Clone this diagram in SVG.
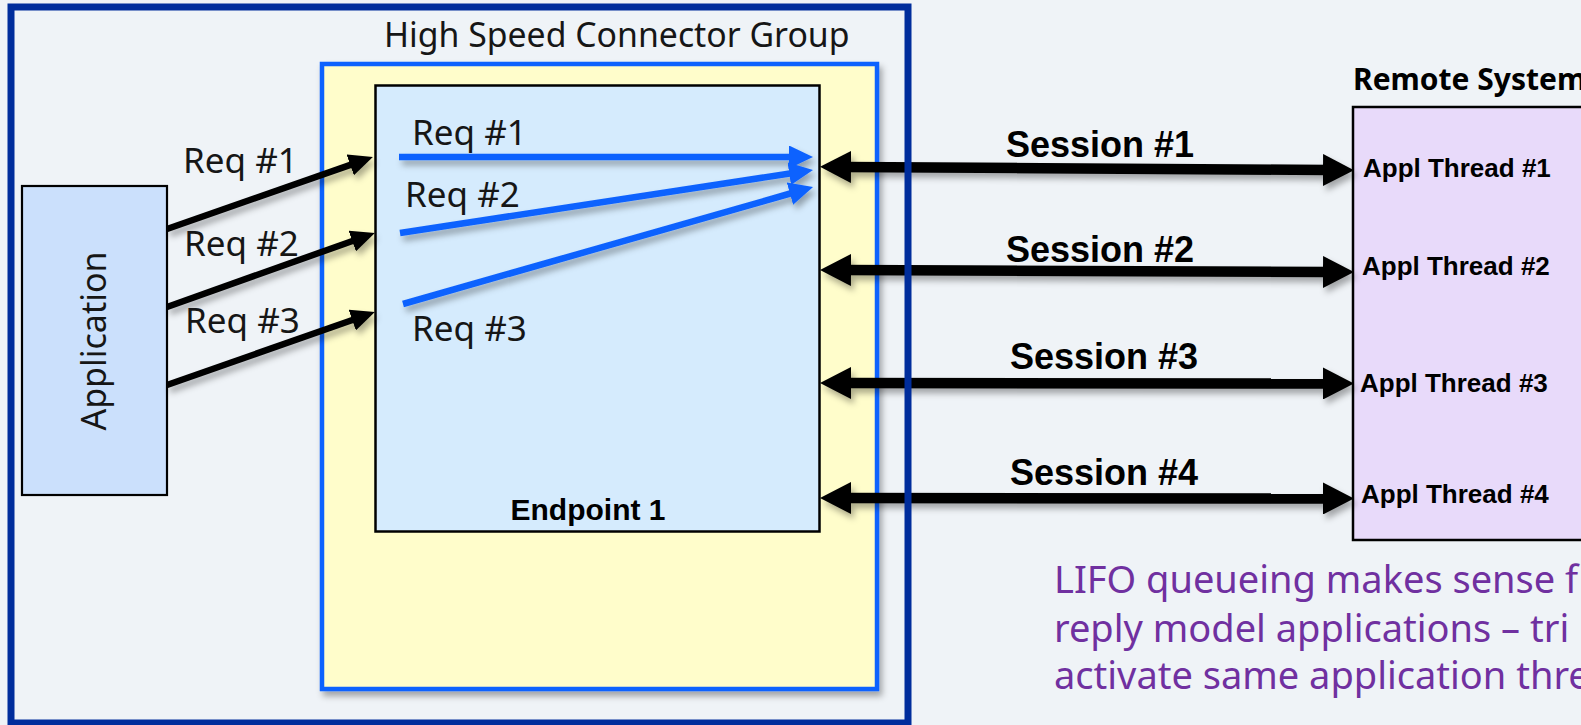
<svg xmlns="http://www.w3.org/2000/svg" width="1581" height="725" viewBox="0 0 1581 725">
  <style>
    .reg { font-family: "Noto Sans", "Open Sans", sans-serif; fill: #161616; }
    .bold { font-family: "Liberation Sans", Arial, sans-serif; font-weight: bold; fill: #000; }
    .req { font-size: 35px; }
    .session { font-size: 36px; }
    .thread { font-size: 26px; }
    .note { font-family: "Noto Sans", "Open Sans", sans-serif; font-size: 38px; fill: #7030a0; }
    .box { stroke: #000; stroke-width: 2.5; }
    .req-link { stroke: #000; stroke-width: 6.5; fill: none; }
    .fan-link { stroke: #0f62fe; stroke-width: 6.5; fill: none; }
    .session-link { stroke: #000; stroke-width: 10.5; fill: none; }
  </style>
  <defs>
    <filter id="shadow" x="-10%" y="-10%" width="130%" height="140%">
      <feDropShadow dx="3" dy="5" stdDeviation="3" flood-color="#000" flood-opacity="0.32"/>
    </filter>
    <marker id="headBlack" markerUnits="userSpaceOnUse" markerWidth="24" markerHeight="22" refX="4" refY="11" orient="auto">
      <path d="M0,0 L24,11 L0,22 Z" fill="#000"/>
    </marker>
    <marker id="headBlue" markerUnits="userSpaceOnUse" markerWidth="24" markerHeight="23" refX="4" refY="11.5" orient="auto">
      <path d="M0,0 L24,11.5 L0,23 Z" fill="#0f62fe"/>
    </marker>
    <marker id="headSession" markerUnits="userSpaceOnUse" markerWidth="31" markerHeight="32" refX="6" refY="16" orient="auto-start-reverse">
      <path d="M0,0 L31,16 L0,32 Z" fill="#000"/>
    </marker>
  </defs>

  <!-- page background -->
  <rect x="0" y="0" width="1581" height="725" fill="#eff3f7"/>

  <!-- connector group container -->
  <g id="hsc-group">
    <rect x="322" y="64" width="555" height="625" fill="#fffdcb" stroke="#0f62fe" stroke-width="4.5" filter="url(#shadow)"/>
    <text class="reg" x="384" y="47" font-size="33.8">High Speed Connector Group</text>
  </g>

  <!-- endpoint -->
  <g id="endpoint-1">
    <rect class="box" x="375.5" y="85.5" width="444" height="446" fill="#d5ebfd"/>
    <text class="bold" x="588" y="520" font-size="30" text-anchor="middle">Endpoint 1</text>
  </g>

  <!-- application -->
  <g id="application">
    <rect x="22" y="186" width="145" height="309" fill="#cbe0fc" stroke="#000" stroke-width="2.2"/>
    <text class="reg" font-size="34" text-anchor="middle" transform="translate(106,341) rotate(-90)">Application</text>
  </g>

  <!-- remote system -->
  <g id="remote-system">
    <rect class="box" x="1353" y="107" width="260" height="433" fill="#e8dafa"/>
    <text x="1353" y="90" font-family="'Noto Sans', 'Liberation Sans', sans-serif" font-weight="bold" font-size="30" fill="#000">Remote System</text>
    <text class="bold thread" x="1363" y="177">Appl Thread #1</text>
    <text class="bold thread" x="1362" y="275">Appl Thread #2</text>
    <text class="bold thread" x="1360" y="392">Appl Thread #3</text>
    <text class="bold thread" x="1361" y="503">Appl Thread #4</text>
  </g>

  <!-- connectors -->
  <g id="connectors" filter="url(#shadow)">
    <!-- application to endpoint -->
    <line class="req-link" x1="167" y1="229" x2="354" y2="163.6" marker-end="url(#headBlack)"/>
    <line class="req-link" x1="167" y1="307" x2="356" y2="239.7" marker-end="url(#headBlack)"/>
    <line class="req-link" x1="167" y1="385" x2="356" y2="318.7" marker-end="url(#headBlack)"/>
    <!-- requests funneled inside the endpoint -->
    <line class="fan-link" x1="399" y1="157" x2="793" y2="157" marker-end="url(#headBlue)"/>
    <line class="fan-link" x1="400" y1="233" x2="793.2" y2="173" marker-end="url(#headBlue)"/>
    <line class="fan-link" x1="403" y1="304" x2="793.8" y2="192.5" marker-end="url(#headBlue)"/>
    <!-- sessions -->
    <line class="session-link" x1="845" y1="167" x2="1329" y2="170" marker-start="url(#headSession)" marker-end="url(#headSession)"/>
    <line class="session-link" x1="845" y1="270" x2="1329" y2="272" marker-start="url(#headSession)" marker-end="url(#headSession)"/>
    <line class="session-link" x1="845" y1="383" x2="1329" y2="383.5" marker-start="url(#headSession)" marker-end="url(#headSession)"/>
    <line class="session-link" x1="845" y1="498" x2="1329" y2="498.5" marker-start="url(#headSession)" marker-end="url(#headSession)"/>
  </g>

  <!-- connector labels -->
  <g id="labels">
    <text class="reg req" x="183" y="173">Req #1</text>
    <text class="reg req" x="184" y="256">Req #2</text>
    <text class="reg req" x="185" y="333">Req #3</text>
    <text class="reg req" x="412" y="145">Req #1</text>
    <text class="reg req" x="405" y="207">Req #2</text>
    <text class="reg req" x="412" y="341">Req #3</text>
    <text class="bold session" x="1006" y="157">Session #1</text>
    <text class="bold session" x="1006" y="262">Session #2</text>
    <text class="bold session" x="1010" y="369">Session #3</text>
    <text class="bold session" x="1010" y="485">Session #4</text>
  </g>

  <!-- outer system frame -->
  <rect id="system-frame" x="11" y="7" width="897" height="716" fill="none" stroke="#002d9c" stroke-width="7"/>

  <!-- note -->
  <g id="note">
    <text class="note" x="1054" y="593">LIFO queueing makes sense f</text>
    <text class="note" x="1054" y="642">reply model applications – tri</text>
    <text class="note" x="1054" y="689">activate same application thre</text>
  </g>
</svg>
